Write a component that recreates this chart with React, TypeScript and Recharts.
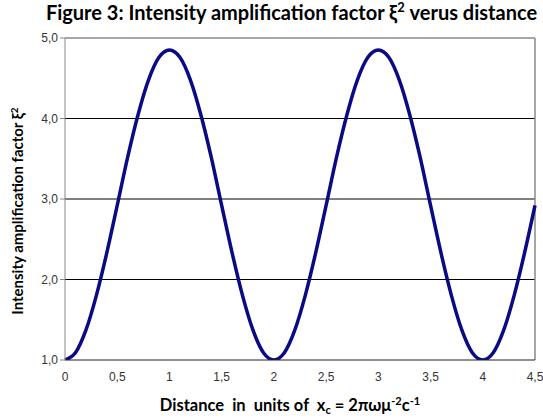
import { LineChart, Line, XAxis, YAxis, ReferenceLine, Label } from 'recharts';

// distance values (units of x_c)
const distance = [
  0, 0.1, 0.2, 0.3, 0.4, 0.5, 0.6, 0.7, 0.8, 0.9,
  1.0, 1.1, 1.2, 1.3, 1.4, 1.5, 1.6, 1.7, 1.8, 1.9,
  2.0, 2.1, 2.2, 2.3, 2.4, 2.5, 2.6, 2.7, 2.8, 2.9,
  3.0, 3.1, 3.2, 3.3, 3.4, 3.5, 3.6, 3.7, 3.8, 3.9,
  4.0, 4.1, 4.2, 4.3, 4.4, 4.5,
];

const intensity = [
  1.0, 1.09, 1.37, 1.8, 2.33, 2.92, 3.52, 4.05, 4.48, 4.76,
  4.85, 4.76, 4.48, 4.05, 3.52, 2.92, 2.33, 1.8, 1.37, 1.09,
  1.0, 1.09, 1.37, 1.8, 2.33, 2.92, 3.52, 4.05, 4.48, 4.76,
  4.85, 4.76, 4.48, 4.05, 3.52, 2.92, 2.33, 1.8, 1.37, 1.09,
  1.0, 1.09, 1.37, 1.8, 2.33, 2.92,
];

const xTicks = [0, 0.5, 1, 1.5, 2, 2.5, 3, 3.5, 4, 4.5];
const yTicks = [1, 2, 3, 4, 5];
const innerGrid = [2, 3, 4];

const data = distance.map((d, i) => ({ d, v: intensity[i] }));

const comma = (v: number, digits: number) =>
  (digits >= 0 ? v.toFixed(digits) : String(v)).replace('.', ',');

const labelFont = 'Lato, "Open Sans", sans-serif';

const XTitle = ({ viewBox }: any) => {
  const cx = viewBox.x + viewBox.width / 2 - 10;
  const y = viewBox.y + 51;
  return (
    <text x={cx} y={y} textAnchor="middle" fontFamily={labelFont} fontWeight="bold" fontSize={16.5} fill="#000">
      Distance{'\u00a0\u00a0'}in{'\u00a0\u00a0'}units of{'\u00a0\u00a0'}x
      <tspan fontSize={11} dy={3}>c</tspan>
      <tspan dy={-3}> = 2πωμ</tspan>
      <tspan fontSize={11} dy={-6}>-2</tspan>
      <tspan dy={6}>c</tspan>
      <tspan fontSize={11} dy={-6}>-1</tspan>
    </text>
  );
};

const YTitle = ({ viewBox }: any) => {
  const x = 23;
  const cy = viewBox.y + viewBox.height / 2 + 12;
  return (
    <text x={x} y={cy} transform={`rotate(-90 ${x} ${cy})`} textAnchor="middle" fontFamily={labelFont} fontWeight="bold" fontSize={15} fill="#000">
      Intensity amplification factor ξ
      <tspan fontSize={10} dy={-5}>2</tspan>
    </text>
  );
};

export default function App() {
  return (
    <div style={{ position: 'absolute', left: 0, top: 0, width: 543, height: 420, background: '#fff' }}>
      <div
        style={{
          position: 'absolute', left: 0, top: -1, width: 543, textAlign: 'center', paddingLeft: 40, boxSizing: 'border-box',
          fontFamily: labelFont, fontWeight: 'bold', fontSize: 20, color: '#000', whiteSpace: 'nowrap',
        }}
      >
        Figure 3: Intensity amplification factor ξ<sup style={{ fontSize: 13 }}>2</sup> verus distance
      </div>
      <LineChart width={543} height={420} data={data} margin={{ top: 38, right: 8, left: 0, bottom: 0 }}>
        <XAxis
          dataKey="d"
          type="number"
          domain={[0, 4.5]}
          ticks={xTicks}
          tickFormatter={(v: number) => comma(v, -1)}
          tickLine={false}
          axisLine={{ stroke: '#222', strokeWidth: 1 }}
          tick={{ fill: '#333', fontSize: 12, fontFamily: 'Liberation Sans, Arial, sans-serif' }}
          tickMargin={6}
          height={60}
          interval={0}
        >
          <Label content={<XTitle />} />
        </XAxis>
        <YAxis
          type="number"
          domain={[1, 5]}
          ticks={yTicks}
          tickFormatter={(v: number) => comma(v, 1)}
          tickLine={{ stroke: '#888' }}
          tickSize={5}
          axisLine={{ stroke: '#888', strokeWidth: 1 }}
          tick={{ fill: '#333', fontSize: 12, fontFamily: 'Liberation Sans, Arial, sans-serif' }}
          width={65}
          allowDataOverflow
        >
          <Label content={<YTitle />} />
        </YAxis>
        {innerGrid.map((g) => (
          <ReferenceLine key={g} y={g} stroke="#000" strokeWidth={1} />
        ))}
        <ReferenceLine y={5} stroke="#888" strokeWidth={1.5} />
        <ReferenceLine x={4.5} stroke="#888" strokeWidth={1.5} />
        <Line
          type="monotone"
          dataKey="v"
          stroke="#0a0a85"
          strokeWidth={3.5}
          dot={false}
          isAnimationActive={false}
        />
      </LineChart>
    </div>
  );
}
